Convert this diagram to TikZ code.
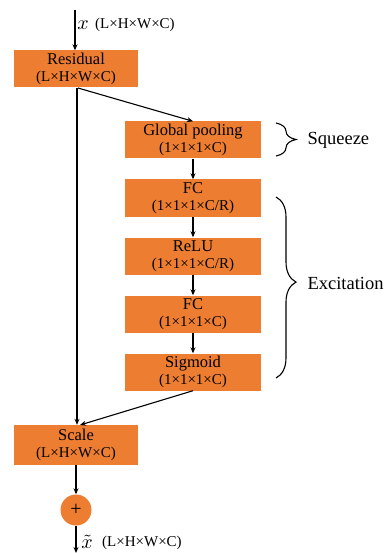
\documentclass[tikz,border=0pt]{standalone}
\usepackage{fontspec}
\setmainfont{Liberation Serif}
\usetikzlibrary{arrows.meta,decorations.pathreplacing}
\definecolor{seorange}{RGB}{237,125,49}
\begin{document}
\begin{tikzpicture}[x=1pt,y=1pt,
  blk/.style={fill=seorange,draw=none,minimum height=37pt,inner sep=0pt,align=center,
    font=\fontsize{16.5}{17}\selectfont},
  wideblk/.style={blk,minimum width=124pt},
  narrowblk/.style={blk,minimum width=136pt},
  arr/.style={-{Stealth[length=6pt,width=5pt]},line width=1.1pt},
  brc/.style={decorate,decoration={brace,amplitude=20pt},line width=1.1pt},
  side/.style={font=\fontsize{18.5}{20}\selectfont,anchor=west},
  dimlbl/.style={font=\fontsize{15}{17}\selectfont,anchor=west,inner sep=0pt},
  mathlbl/.style={inner sep=0pt}]
\useasboundingbox (0,0) rectangle (385,-553);
\newcommand{\sub}[1]{{\fontsize{15}{17}\selectfont #1}}
\node[wideblk] (res) at (76,-69) {Residual\\\sub{(L×H×W×C)}};
\node[narrowblk] (gp) at (193,-140) {Global pooling\\\sub{(1×1×1×C)}};
\node[narrowblk] (fc1) at (193,-198) {FC\\\sub{(1×1×1×C/R)}};
\node[narrowblk] (relu) at (193,-256) {ReLU\\\sub{(1×1×1×C/R)}};
\node[narrowblk] (fc2) at (193,-314) {FC\\\sub{(1×1×1×C)}};
\node[narrowblk] (sig) at (193,-372) {Sigmoid\\\sub{(1×1×1×C)}};
\node[wideblk,minimum height=40pt] (sc) at (76,-445) {Scale\\\sub{(L×H×W×C)}};
\node[circle,fill=seorange,minimum size=31pt,inner sep=0pt,font=\fontsize{20}{22}\selectfont] (add) at (76,-510) {+};
\coordinate (top) at (75,-10);
\coordinate (bot) at (76,-553);
\coordinate (resout) at (78,-88);
\coordinate (scin) at (80,-425);
\node[mathlbl] (xin) at (83,-25) {\scalebox{2}{$x$}};
\node[dimlbl] (xindim) at (95,-25) {(L×H×W×C)};
\node[mathlbl] (xout) at (87,-542) {\scalebox{2}{$\tilde{x}$}};
\node[dimlbl] (xoutdim) at (102,-543) {(L×H×W×C)};
\draw[arr] (top) -- (res.north -| top);
\draw[arr] (resout) -- (gp.north);
\draw[arr] (resout -| 77,0) -- (sc.north -| 77,0);
\draw[arr] (gp.south) -- (fc1.north);
\draw[arr] (fc1.south) -- (relu.north);
\draw[arr] (relu.south) -- (fc2.north);
\draw[arr] (fc2.south) -- (sig.north);
\draw[arr] (sig.south) -- (scin);
\draw[arr] (sc.south) -- (add.north);
\draw[arr] (add.south) -- (bot);
\coordinate (sqa) at (276,-123);
\coordinate (sqb) at (276,-156);
\coordinate (exa) at (276,-197);
\coordinate (exb) at (276,-378);
\draw[brc] (sqa) -- (sqb);
\draw[brc,decoration={aspect=0.47}] (exa) -- (exb);
\node[side] (sq) at (304,-140) {Squeeze};
\node[side] (ex) at (304,-283) {Excitation};
\end{tikzpicture}
\end{document}
